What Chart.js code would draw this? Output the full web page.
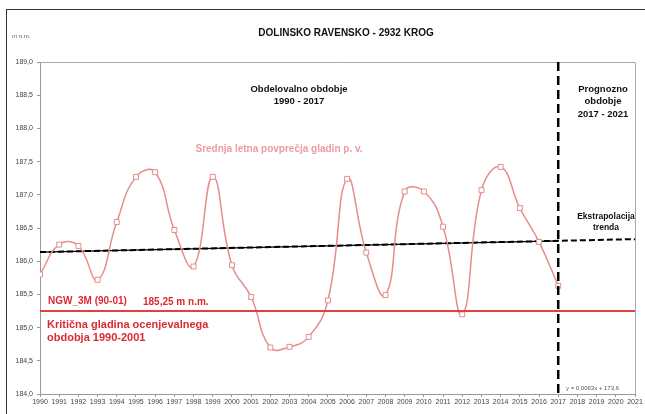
<!DOCTYPE html>
<html>
<head>
<meta charset="utf-8">
<script src="https://cdn.jsdelivr.net/npm/chart.js@4"></script>
<style>
  body { margin: 0; background: #fff; }
  #wrap { width: 645px; height: 414px; position: relative; }
</style>
</head>
<body>
<div id="wrap"><canvas id="chartCanvas"></canvas></div>
<script>
const years = [1990, 1991, 1992, 1993, 1994, 1995, 1996, 1997, 1998, 1999, 2000, 2001, 2002, 2003,
    2004, 2005, 2006, 2007, 2008, 2009, 2010, 2011, 2012, 2013, 2014, 2015, 2016, 2017];
const levels = [185.80, 186.25, 186.23, 185.72, 186.59, 187.27, 187.34, 186.47, 185.92, 187.27, 185.94, 185.46, 184.70, 184.71,
    184.86, 185.41, 187.24, 186.13, 185.49, 187.05, 187.05, 186.52, 185.20, 187.07, 187.42, 186.80, 186.29, 185.63];
const trendSlope = 0.0063;
const trendIntercept = 173.6;
const criticalLevel = 185.25;
const forecastStart = 2017;
const forecastEnd = 2021;

const trendFull = [
    { x: years[0], y: trendSlope * years[0] + trendIntercept },
    { x: forecastEnd, y: trendSlope * forecastEnd + trendIntercept }
];
const trendObs = [
    { x: years[0], y: trendSlope * years[0] + trendIntercept },
    { x: forecastStart, y: trendSlope * forecastStart + trendIntercept }
];

const font = "'Liberation Sans', Arial, sans-serif";

const decorPlugin = {
    id: 'decor',
    beforeDraw(chart) {
        const ctx = chart.ctx;
        ctx.save();
        ctx.fillStyle = '#fff';
        ctx.fillRect(0, 0, chart.width, chart.height);
        ctx.restore();
    },
    afterDatasetsDraw(chart) {
        const ctx = chart.ctx;
        const xs = chart.scales.x;
        const ys = chart.scales.y;
        const a = chart.chartArea;
        ctx.save();
        // outer frame
        ctx.strokeStyle = '#333';
        ctx.lineWidth = 1;
        ctx.strokeRect(6.5, 9.5, 660, 420);
        // plot border top and right
        ctx.strokeStyle = '#aaa';
        ctx.beginPath();
        ctx.moveTo(a.left, a.top + 0.5);
        ctx.lineTo(a.right + 0.5, a.top + 0.5);
        ctx.lineTo(a.right + 0.5, a.bottom);
        ctx.stroke();

        // critical level
        const yc = ys.getPixelForValue(criticalLevel);
        ctx.strokeStyle = '#e2403f';
        ctx.lineWidth = 2;
        ctx.beginPath();
        ctx.moveTo(a.left, yc);
        ctx.lineTo(a.right, yc);
        ctx.stroke();

        // forecast divider
        const xf = xs.getPixelForValue(forecastStart);
        ctx.strokeStyle = '#000';
        ctx.lineWidth = 2.5;
        ctx.setLineDash([9, 5]);
        ctx.beginPath();
        ctx.moveTo(xf, a.top);
        ctx.lineTo(xf, a.bottom);
        ctx.stroke();
        ctx.setLineDash([]);

        // texts
        ctx.textBaseline = 'middle';
        ctx.textAlign = 'center';
        ctx.fillStyle = '#111';
        ctx.font = 'bold 10px ' + font;
        ctx.fillText('DOLINSKO RAVENSKO - 2932 KROG', 346, 33);
        ctx.font = 'bold 9.5px ' + font;
        ctx.fillText('Obdelovalno obdobje', 299, 89);
        ctx.fillText('1990 - 2017', 299, 101);
        ctx.fillText('Prognozno', 603, 89);
        ctx.fillText('obdobje', 603, 101);
        ctx.fillText('2017 - 2021', 603, 114);
        ctx.font = 'bold 8.5px ' + font;
        ctx.fillText('Ekstrapolacija', 606, 217);
        ctx.fillText('trenda', 606, 228);

        ctx.fillStyle = '#ee9aa2';
        ctx.font = 'bold 10px ' + font;
        ctx.fillText('Srednja letna povprečja gladin p. v.', 279, 149);

        ctx.textAlign = 'left';
        ctx.fillStyle = '#dc2a35';
        ctx.font = 'bold 10px ' + font;
        ctx.fillText('NGW_3M (90-01)', 48, 301);
        ctx.fillText('185,25 m n.m.', 143, 302);
        ctx.font = 'bold 11px ' + font;
        ctx.fillText('Kritična gladina ocenjevalnega', 47, 325);
        ctx.fillText('obdobja 1990-2001', 47, 338);

        ctx.fillStyle = '#555';
        ctx.font = '6px ' + font;
        ctx.fillText('m n.m.', 12, 36);
        ctx.fillText('y = 0,0063x + 173,6', 566, 388);
        ctx.restore();
    }
};

const ctx = document.getElementById('chartCanvas').getContext('2d');
const chart = new Chart(ctx, {
    type: 'line',
    data: {
        datasets: [
            {
                label: 'trend',
                data: trendObs,
                borderColor: '#000',
                borderWidth: 1.2,
                pointRadius: 0,
                order: 2
            },
            {
                label: 'ekstrapolacija',
                data: trendFull,
                borderColor: '#000',
                borderWidth: 2,
                borderDash: [6, 3],
                pointRadius: 0,
                order: 1
            },
            {
                label: 'Srednja letna povprečja gladin p. v.',
                data: years.map((y, i) => ({ x: y, y: levels[i] })),
                borderColor: '#e58d8d',
                borderWidth: 1.5,
                tension: 0.45,
                pointStyle: 'rect',
                pointRadius: 3.5,
                pointBackgroundColor: '#fff',
                pointBorderColor: '#e58d8d',
                pointBorderWidth: 1,
                order: 0
            }
        ]
    },
    options: {
        responsive: true,
        maintainAspectRatio: false,
        animation: false,
        layout: { padding: { top: 62, left: 6, right: 10, bottom: 0 } },
        plugins: { legend: { display: false }, tooltip: { enabled: false } },
        scales: {
            x: {
                type: 'linear',
                min: 1990,
                max: 2021,
                grid: { drawOnChartArea: false, drawTicks: true, tickLength: 3, color: '#999' },
                border: { color: '#999' },
                ticks: {
                    stepSize: 1,
                    autoSkip: false,
                    maxRotation: 0,
                    padding: 1,
                    color: '#444',
                    font: { family: font, size: 7 },
                    callback: v => String(v)
                },
                afterFit: s => { s.height = 20; }
            },
            y: {
                min: 184,
                max: 189,
                grid: { drawOnChartArea: false, drawTicks: true, tickLength: 3, color: '#999' },
                border: { color: '#999' },
                ticks: {
                    stepSize: 0.5,
                    padding: 4,
                    color: '#444',
                    font: { family: font, size: 7 },
                    callback: v => v.toFixed(1).replace('.', ',')
                },
                afterFit: s => { s.width = 34; }
            }
        }
    },
    plugins: [decorPlugin]
});
</script>
</body>
</html>
